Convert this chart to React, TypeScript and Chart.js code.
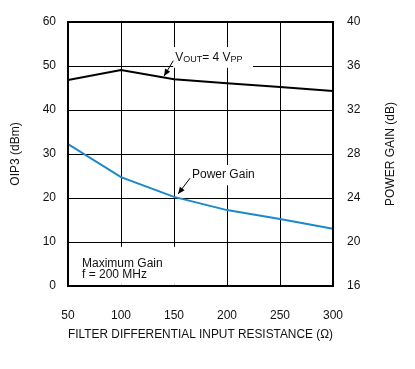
import React, { useEffect, useRef } from "react";
import { Chart, registerables } from "chart.js";

Chart.register(...registerables);

const resistance = [50, 100, 150, 200, 250, 300];
const oip3 = [46.8, 49.1, 47.0, 46.1, 45.2, 44.3];
const powerGain = [28.9, 25.9, 24.1, 22.9, 22.1, 21.2];

const FONT = '"Liberation Sans", Arial, Helvetica, sans-serif';
const BLUE = "#1a88c9";
const TEXT = "#111";

function arrow(ctx: CanvasRenderingContext2D, x0: number, y0: number, x1: number, y1: number) {
  ctx.beginPath();
  ctx.moveTo(x0, y0);
  ctx.lineTo(x1, y1);
  ctx.lineWidth = 1;
  ctx.strokeStyle = "#000";
  ctx.stroke();
  const ang = Math.atan2(y1 - y0, x1 - x0);
  const len = 7;
  const w = 3;
  ctx.beginPath();
  ctx.moveTo(x1, y1);
  ctx.lineTo(x1 - len * Math.cos(ang) + w * Math.sin(ang), y1 - len * Math.sin(ang) - w * Math.cos(ang));
  ctx.lineTo(x1 - len * Math.cos(ang) - w * Math.sin(ang), y1 - len * Math.sin(ang) + w * Math.cos(ang));
  ctx.closePath();
  ctx.fillStyle = "#000";
  ctx.fill();
}

const annotations = {
  id: "annotations",
  beforeDatasetsDraw(chart: any) {
    const { ctx, scales } = chart;
    const x = scales.x;
    const y = scales.y;
    const box = (xa: number, xb: number, ya: number, yb: number) => {
      const px0 = x.getPixelForValue(xa);
      const px1 = x.getPixelForValue(xb);
      const py0 = y.getPixelForValue(ya);
      const py1 = y.getPixelForValue(yb);
      ctx.fillRect(px0, py0, px1 - px0, py1 - py0);
    };
    ctx.save();
    ctx.fillStyle = "#fff";
    box(149.3, 224.5, 54.3, 49.6);
    box(165, 221, 27.5, 22.9);
    box(52, 158, 8.9, 0.3);
    ctx.restore();
  },
  afterDatasetsDraw(chart: any) {
    const { ctx, scales } = chart;
    const x = scales.x;
    const y = scales.y;
    const px = (v: number) => x.getPixelForValue(v);
    const py = (v: number) => y.getPixelForValue(v);
    ctx.save();
    ctx.fillStyle = TEXT;
    ctx.textBaseline = "alphabetic";
    ctx.textAlign = "left";
    // VOUT = 4 VPP
    let cx = px(151.1);
    const by = py(51.25);
    const big = `12px ${FONT}`;
    const small = `9px ${FONT}`;
    const parts: [string, string, number][] = [
      ["V", big, 0],
      ["OUT", small, 1],
      ["= 4 V", big, 0],
      ["PP", small, 1],
    ];
    for (const [t, f, dy] of parts) {
      ctx.font = f;
      ctx.fillText(t, cx, by + dy);
      cx += ctx.measureText(t).width;
    }
    ctx.font = big;
    ctx.fillText("Power Gain", px(167), py(24.55));
    ctx.fillText("Maximum Gain", px(63.2), py(4.43));
    ctx.fillText("f = 200 MHz", px(63.2), py(1.93));
    arrow(ctx, px(149.3), py(51.2), px(140.6), py(47.7));
    arrow(ctx, px(165.1), py(24.5), px(153.8), py(20.9));
    ctx.restore();
  },
  afterDraw(chart: any) {
    const { ctx, chartArea } = chart;
    ctx.save();
    ctx.strokeStyle = "#000";
    ctx.lineWidth = 2;
    ctx.strokeRect(chartArea.left, chartArea.top, chartArea.right - chartArea.left, chartArea.bottom - chartArea.top);
    // right axis title, reading bottom to top
    const y1 = chart.scales.y1;
    ctx.translate(y1.right - 24, (chartArea.top + chartArea.bottom) / 2);
    ctx.rotate(-Math.PI / 2);
    ctx.font = `12px ${FONT}`;
    ctx.fillStyle = TEXT;
    ctx.textAlign = "center";
    ctx.textBaseline = "middle";
    ctx.fillText("POWER GAIN (dB)", 0, 0);
    ctx.restore();
  },
};

export default function App() {
  const ref = useRef<HTMLCanvasElement | null>(null);
  useEffect(() => {
    if (!ref.current) return;
    const tickFont = { family: FONT, size: 12 };
    const chart = new Chart(ref.current, {
      type: "line",
      data: {
        datasets: [
          {
            label: "OIP3",
            data: resistance.map((r, i) => ({ x: r, y: oip3[i] })),
            borderColor: "#000",
            borderWidth: 2,
            pointRadius: 0,
            tension: 0,
            yAxisID: "y",
          },
          {
            label: "Power Gain",
            data: resistance.map((r, i) => ({ x: r, y: powerGain[i] })),
            borderColor: BLUE,
            borderWidth: 2,
            pointRadius: 0,
            tension: 0,
            yAxisID: "y1",
          },
        ],
      },
      options: {
        responsive: false,
        animation: false,
        layout: { padding: { top: 22, left: 0, right: 0, bottom: 0 } },
        plugins: { legend: { display: false }, tooltip: { enabled: false }, title: { display: false } },
        scales: {
          x: {
            type: "linear",
            min: 50,
            max: 300,
            ticks: { stepSize: 50, font: tickFont, color: TEXT, padding: 22, maxRotation: 0 },
            grid: { color: "#000", lineWidth: 1, drawTicks: false },
            border: { display: false },
            title: {
              display: true,
              text: "FILTER DIFFERENTIAL INPUT RESISTANCE (Ω)",
              font: tickFont,
              color: TEXT,
              padding: { top: 0, bottom: 27 },
            },
            afterFit: (s: any) => {
              s.height = 83;
            },
          },
          y: {
            position: "left",
            min: 0,
            max: 60,
            ticks: { stepSize: 10, font: tickFont, color: TEXT, padding: 12 },
            grid: { color: "#000", lineWidth: 1, drawTicks: false },
            border: { display: false },
            title: {
              display: true,
              text: "OIP3 (dBm)",
              font: tickFont,
              color: TEXT,
              padding: { top: 8, bottom: 0 },
            },
            afterFit: (s: any) => {
              s.width = 68;
            },
          },
          y1: {
            position: "right",
            min: 16,
            max: 40,
            ticks: { stepSize: 4, font: tickFont, color: TEXT, padding: 14 },
            grid: { display: false, drawTicks: false },
            border: { display: false },
            afterFit: (s: any) => {
              s.width = 82;
            },
          },
        },
      },
      plugins: [annotations],
    });
    return () => chart.destroy();
  }, []);
  return (
    <div style={{ position: "fixed", left: 0, top: 0, width: 415, height: 369, background: "#fff" }}>
      <canvas ref={ref} width={415} height={369} style={{ display: "block" }} />
    </div>
  );
}
